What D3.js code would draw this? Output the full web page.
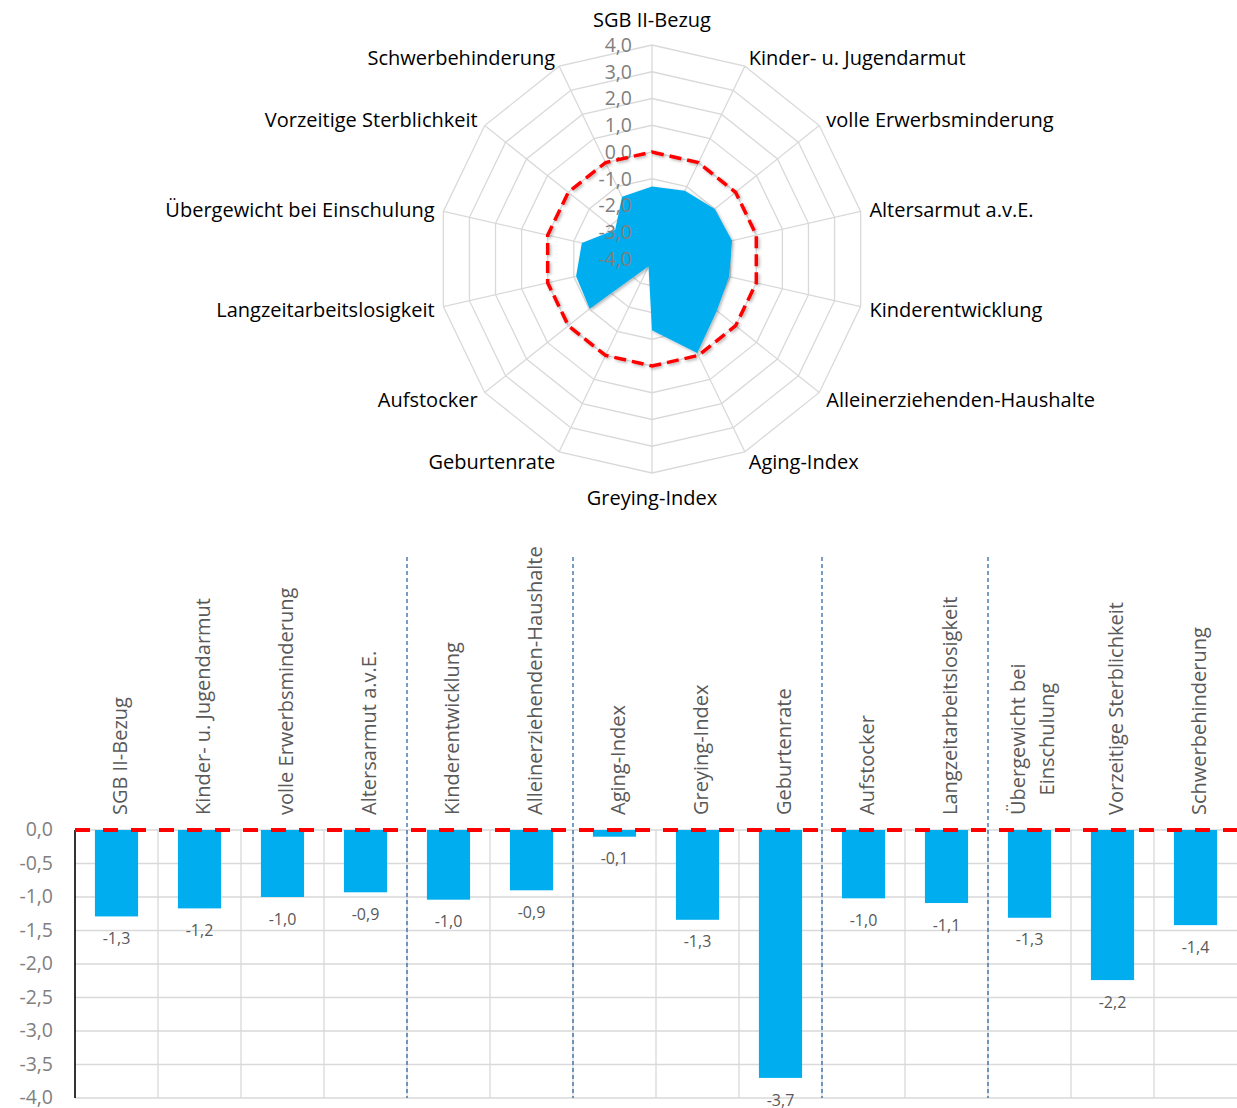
<!DOCTYPE html>
<html><head><meta charset="utf-8">
<script src="https://cdn.jsdelivr.net/npm/d3@7"></script>
<style>body{margin:0;background:#fff}svg{display:block;font-family:"Open Sans","Noto Sans",sans-serif}</style>
</head><body>
<svg id="c" width="1237" height="1108"></svg>
<script>
const categories = ["SGB II-Bezug","Kinder- u. Jugendarmut","volle Erwerbsminderung","Altersarmut a.v.E.","Kinderentwicklung","Alleinerziehenden-Haushalte","Aging-Index","Greying-Index","Geburtenrate","Aufstocker","Langzeitarbeitslosigkeit","Übergewicht bei Einschulung","Vorzeitige Sterblichkeit","Schwerbehinderung"];
const barLabelLines = [["SGB II-Bezug"],["Kinder- u. Jugendarmut"],["volle Erwerbsminderung"],["Altersarmut a.v.E."],["Kinderentwicklung"],["Alleinerziehenden-Haushalte"],["Aging-Index"],["Greying-Index"],["Geburtenrate"],["Aufstocker"],["Langzeitarbeitslosigkeit"],["Übergewicht bei","Einschulung"],["Vorzeitige Sterblichkeit"],["Schwerbehinderung"]];
const values = [-1.29,-1.17,-1.00,-0.93,-1.04,-0.90,-0.10,-1.34,-3.70,-1.02,-1.09,-1.31,-2.24,-1.42];
const reference = [0,0,0,0,0,0,0,0,0,0,0,0,0,0];
const radarTicks = [-4,-3,-2,-1,0,1,2,3,4];
const barTicks = [0,-0.5,-1,-1.5,-2,-2.5,-3,-3.5,-4];
const separatorsAfter = [3,5,8,10];

const fmt = v => d3.format(".1f")(v).replace(".",",").replace("−","-");
const svg = d3.select("#c");
const BLUE = "#00aeef", RED = "#ff0000", GRID = "#d9d9d9";
const FONT = 20;
const TICKFONT = 19.5;

const defs = svg.append("defs");
const f = defs.append("filter").attr("id","sh").attr("x","-20%").attr("y","-20%").attr("width","140%").attr("height","140%");
f.append("feDropShadow").attr("dx",1.5).attr("dy",1.5).attr("stdDeviation",1.5).attr("flood-color","#000").attr("flood-opacity",0.3);

// ---------- RADAR ----------
const cx = 652, cy = 259, R = 214;
const n = categories.length;
const ang = i => i * 2 * Math.PI / n;
const r = d3.scaleLinear().domain([-4,4]).range([0,R]);
const rg = svg.append("g");
radarTicks.forEach(t => {
  const pts = categories.map((c,i)=>[cx + r(t)*Math.sin(ang(i)), cy - r(t)*Math.cos(ang(i))]);
  rg.append("polygon").attr("points", pts.map(p=>p.join(",")).join(" "))
    .attr("fill","none").attr("stroke",GRID).attr("stroke-width",1.3);
});
categories.forEach((c,i)=>{
  rg.append("line").attr("x1",cx).attr("y1",cy)
    .attr("x2",cx + R*Math.sin(ang(i))).attr("y2",cy - R*Math.cos(ang(i)))
    .attr("stroke",GRID).attr("stroke-width",1.3);
});
const line = d3.lineRadial().angle((d,i)=>ang(i)).radius(d=>r(d)).curve(d3.curveLinearClosed);
rg.append("path").attr("transform",`translate(${cx},${cy})`).attr("d",line(values))
  .attr("fill",BLUE).attr("filter","url(#sh)");
radarTicks.forEach(t=>{
  rg.append("text").attr("x",cx-20).attr("y",cy - r(t)).attr("dy","0.35em")
    .attr("text-anchor","end").attr("fill","#7f7f7f").attr("font-size",TICKFONT).text(fmt(t));
});
rg.append("path").attr("transform",`translate(${cx},${cy})`).attr("d",line(reference))
  .attr("fill","none").attr("stroke",RED).attr("stroke-width",3.5).attr("stroke-dasharray","12,6").attr("filter","url(#sh)");
categories.forEach((c,i)=>{
  const s = Math.sin(ang(i)), co = Math.cos(ang(i));
  let lx = cx + (R+9)*s, ly = cy - (R+10)*co + 1, anchor = "middle";
  if (Math.abs(s) < 1e-6) { ly = cy - (R+25)*co; }
  else anchor = s > 0 ? "start" : "end";
  rg.append("text").attr("x",lx).attr("y",ly).attr("dy","0.35em").attr("text-anchor",anchor)
    .attr("fill","#000").attr("font-size",FONT).text(c);
});

// ---------- BAR CHART ----------
const x0 = 75, x1 = 1237, yTop = 830, yBot = 1098;
const x = d3.scaleBand().domain(categories).range([x0,x1]).paddingInner(0.48).paddingOuter(0.24);
const y = d3.scaleLinear().domain([-4,0]).range([yBot,yTop]);
const bg = svg.append("g");
barTicks.forEach(t=>{
  bg.append("line").attr("x1",x0).attr("x2",x1).attr("y1",y(t)).attr("y2",y(t)).attr("stroke",GRID).attr("stroke-width",1.3);
  bg.append("text").attr("x",53).attr("y",y(t)).attr("dy","0.32em").attr("text-anchor","end")
    .attr("fill","#7f7f7f").attr("font-size",TICKFONT).text(fmt(t));
});
categories.forEach((c,i)=>{
  if (i===0) return;
  const bx = x0 + i*x.step();
  bg.append("line").attr("x1",bx).attr("x2",bx).attr("y1",yTop).attr("y2",yBot).attr("stroke",GRID).attr("stroke-width",1.3);
});
bg.selectAll("rect.bar").data(values).join("rect").attr("class","bar")
  .attr("x",(d,i)=>x(categories[i])).attr("width",x.bandwidth())
  .attr("y",y(0)).attr("height",d=>y(d)-y(0)).attr("fill",BLUE);
bg.selectAll("text.dl").data(values).join("text").attr("class","dl")
  .attr("x",(d,i)=>x(categories[i])+x.bandwidth()/2).attr("y",d=>y(d)+22).attr("dy","0.35em")
  .attr("text-anchor","middle").attr("fill","#595959").attr("font-size",16).text(d=>fmt(d));
barLabelLines.forEach((lines,i)=>{
  const cxl = x(categories[i]) + x.bandwidth()/2 + 3;
  const k = lines.length;
  const t = bg.append("text").attr("fill","#595959").attr("font-size",FONT);
  lines.forEach((ln,j)=>{
    t.append("tspan").attr("x",0).attr("y",(j-(k-1)/2)*29).attr("dy","0.35em").text(ln);
  });
  if (k === 1) {
    t.attr("text-anchor","start").attr("transform",`translate(${cxl},815) rotate(-90)`);
  } else {
    let maxW = 0;
    t.selectAll("tspan").each(function(){ maxW = Math.max(maxW, this.getComputedTextLength()); });
    t.attr("text-anchor","middle").attr("transform",`translate(${cxl},${815 - maxW/2}) rotate(-90)`);
  }
});
separatorsAfter.forEach(i=>{
  const bx = x0 + (i+1)*x.step();
  bg.append("line").attr("x1",bx).attr("x2",bx).attr("y1",557).attr("y2",yBot)
    .attr("stroke","#2e6aa6").attr("stroke-width",1.3).attr("stroke-dasharray","4,3");
});
bg.append("line").attr("x1",x0).attr("x2",x0).attr("y1",yTop).attr("y2",yBot).attr("stroke","#000").attr("stroke-width",1.6);
bg.append("line").attr("x1",x0).attr("x2",x1).attr("y1",y(0)).attr("y2",y(0))
  .attr("stroke",RED).attr("stroke-width",4).attr("stroke-dasharray","15,13");
</script>
</body></html>
